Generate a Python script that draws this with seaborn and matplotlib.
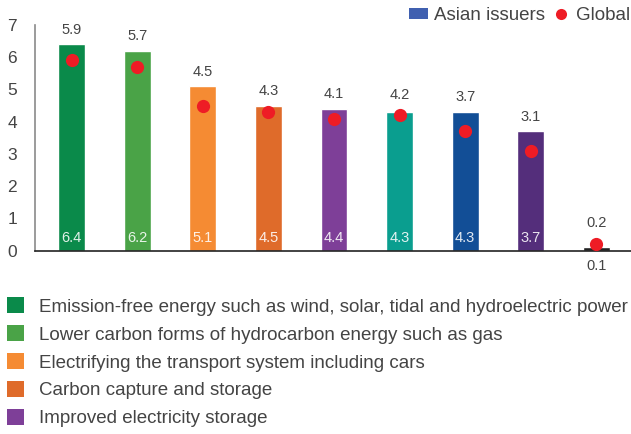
import matplotlib
matplotlib.use("Agg")
import matplotlib.pyplot as plt
from matplotlib.patches import Patch
from matplotlib.lines import Line2D
import seaborn as sns
import pandas as pd

# Scores per low-carbon theme
theme_ids = [1, 2, 3, 4, 5, 6, 7, 8, 9]
asian_issuers = [6.4, 6.2, 5.1, 4.5, 4.4, 4.3, 4.3, 3.7, 0.1]
global_scores = [5.9, 5.7, 4.5, 4.3, 4.1, 4.2, 3.7, 3.1, 0.2]
bar_colors = ["#0a8a4a", "#4aa347", "#f58b33", "#df6b2a", "#7e3f98",
              "#0a9e8f", "#124e96", "#542e7b", "#222222"]
legend_labels = [
    "Emission-free energy such as wind, solar, tidal and hydroelectric power",
    "Lower carbon forms of hydrocarbon energy such as gas",
    "Electrifying the transport system including cars",
    "Carbon capture and storage",
    "Improved electricity storage",
]
y_ticks = [0, 1, 2, 3, 4, 5, 6, 7]

sns.set_theme(style="white")
plt.rcParams["font.family"] = ["Liberation Sans", "DejaVu Sans"]
text_color = "#444444"

df = pd.DataFrame({"theme": theme_ids, "asian": asian_issuers,
                   "global": global_scores})

fig = plt.figure(figsize=(6.31, 4.34), dpi=100)
ax = fig.add_axes([35 / 631, 1 - 250.7 / 434, 1 - 35 / 631, (250.7 - 25) / 434])

sns.barplot(data=df, x="theme", y="asian", hue="theme",
            palette=bar_colors, width=0.41, legend=False, ax=ax,
            saturation=1)
sns.stripplot(data=df, x="theme", y="global", color="#ee1c25",
              jitter=False, size=9.5, linewidth=0, ax=ax, zorder=5)

ax.set_xlim(-0.56, 8.53)
ax.set_ylim(0, 7)
ax.set_yticks(y_ticks)
ax.set_yticklabels([str(t) for t in y_ticks])
ax.set_xticks([])
ax.set_xlabel("")
ax.set_ylabel("")

for side in ["top", "right"]:
    ax.spines[side].set_visible(False)
ax.spines["left"].set_color("#8a8a8a")
ax.spines["left"].set_linewidth(1.2)
ax.spines["bottom"].set_color("#222222")
ax.spines["bottom"].set_linewidth(1.2)
ax.tick_params(axis="y", direction="out", length=7, width=1.0,
               color="#333333", pad=6, labelsize=12.5, labelcolor=text_color)

# Value labels: bar value at the base, global value on top
for i, (a, g) in enumerate(zip(asian_issuers, global_scores)):
    if a > 1:
        ax.text(i, 0.4, f"{a:.1f}", ha="center", va="center",
                fontsize=10.5, color="white", alpha=0.88)
    else:
        ax.text(i, -0.47, f"{a:.1f}", ha="center", va="center",
                fontsize=10.5, color=text_color, clip_on=False)
    top = max(a, g + 0.19)
    ax.annotate(f"{g:.1f}", (i, top), xytext=(0, 5.5),
                textcoords="offset points", ha="center", va="bottom",
                fontsize=10.5, color=text_color, annotation_clip=False)

# Series legend, top right
series_handles = [
    Patch(facecolor="#4060b0", edgecolor="none"),
    Line2D([], [], marker="o", linestyle="none", markersize=8,
           markerfacecolor="#ee1c25", markeredgecolor="none"),
]
fig.legend(series_handles, ["Asian issuers", "Global"], loc="upper right",
           bbox_to_anchor=(1.025, 1.022), ncol=2, frameon=False, fontsize=13.5,
           handlelength=1.0, handleheight=0.55, handletextpad=0.3,
           columnspacing=0.35, labelcolor=text_color)

# Theme legend below the plot
theme_handles = [Patch(facecolor=c, edgecolor="none") for c in bar_colors[:5]]
fig.legend(theme_handles, legend_labels, loc="upper left",
           bbox_to_anchor=(-0.01, 1 - 284 / 434), frameon=False, fontsize=13.5,
           handlelength=0.93, handleheight=0.93, handletextpad=0.78,
           labelspacing=0.51, labelcolor=text_color, borderaxespad=0.3)

fig.savefig("out.png", dpi=100)
